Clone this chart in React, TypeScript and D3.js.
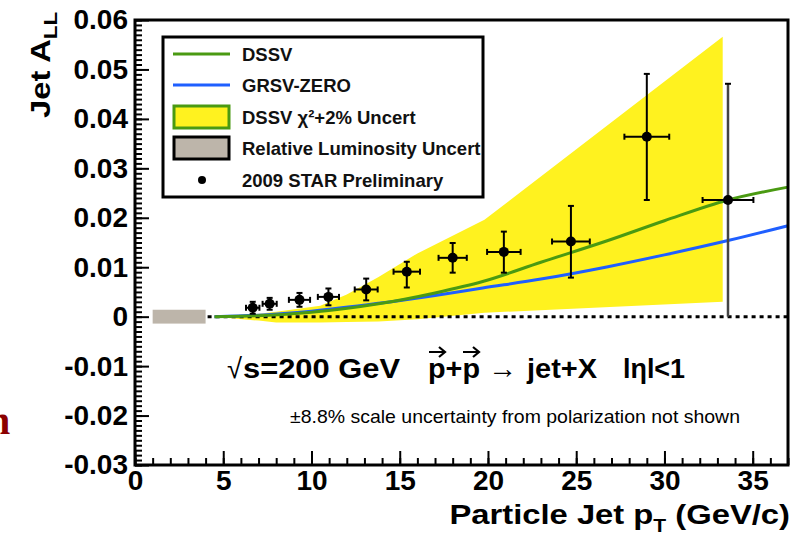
import React, { useEffect, useRef } from "react";
import * as d3 from "d3";

// STAR 2009 jet A_LL
const ptVals = [6.67, 7.63, 9.32, 10.96, 13.1, 15.4, 18.0, 20.9, 24.7, 29.0, 33.6];
const allVals = [0.0018, 0.0026, 0.0034, 0.004, 0.0055, 0.0091, 0.0119, 0.0131, 0.0152, 0.0364, 0.0236];
const errLo = [0.0012, 0.0012, 0.0014, 0.0017, 0.0022, 0.0032, 0.003, 0.0042, 0.0073, 0.0128, 0.0236];
const errHi = [0.0012, 0.0012, 0.0014, 0.0017, 0.0022, 0.002, 0.003, 0.0041, 0.0072, 0.0127, 0.0235];
const binHalf = [0.38, 0.4, 0.6, 0.6, 0.65, 0.75, 0.8, 0.95, 1.07, 1.27, 1.44];

// theory curves
const curvePt = [4.5, 7, 10, 13.8, 17, 19.7, 23, 26.8, 30, 33.6, 37];
const dssvVals = [0, 0.0002, 0.0009, 0.0026, 0.0048, 0.0071, 0.011, 0.0154, 0.0194, 0.0236, 0.0262];
const grsvVals = [0, 0.0003, 0.0011, 0.0027, 0.0043, 0.0058, 0.0076, 0.0101, 0.0125, 0.0154, 0.0184];

// DSSV chi2+2% band
const bandPt = [4.5, 7, 8, 10.5, 12, 13.8, 16, 19.8, 33.3];
const bandHi = [0, 0.0006, 0.001, 0.0022, 0.0045, 0.008, 0.0128, 0.0196, 0.0566];
const bandLo = [0, -0.0008, -0.0012, -0.0012, -0.0011, -0.001, -0.0005, 0.0008, 0.003];

// relative luminosity box
const lumiPt = [1, 4];
const lumiHalf = 0.0014;

const yTicks = [-0.03, -0.02, -0.01, 0, 0.01, 0.02, 0.03, 0.04, 0.05, 0.06];
const xTicks = [0, 5, 10, 15, 20, 25, 30, 35];

const legendItems = ["DSSV", "GRSV-ZERO", "DSSV χ²+2% Uncert", "Relative Luminosity Uncert", "2009 STAR Preliminary"];

const FONT = "'Liberation Sans', Arial, Helvetica, sans-serif";
const GREEN = "#4a9a12";
const BLUE = "#1f5fff";
const YELLOW = "#fff21f";
const LUMI = "#bdb5aa";

export default function App() {
  const ref = useRef<SVGSVGElement>(null);

  useEffect(() => {
    const svg = d3.select(ref.current);
    svg.selectAll("*").remove();

    const left = 135, right = 788, top = 20, bottom = 465;
    const x = d3.scaleLinear().domain([0, 37]).range([left, right]);
    const y = d3.scaleLinear().domain([-0.03, 0.06]).range([bottom, top]);

    const g = svg.append("g");

    // band
    const band = d3.area<number>()
      .x((d, i) => x(bandPt[i]))
      .y0((d, i) => y(bandLo[i]))
      .y1((d) => y(d));
    g.append("path").datum(bandHi).attr("d", band).attr("fill", YELLOW);

    // lumi box
    g.append("rect")
      .attr("x", x(lumiPt[0])).attr("width", x(lumiPt[1]) - x(lumiPt[0]))
      .attr("y", y(lumiHalf)).attr("height", y(-lumiHalf) - y(lumiHalf))
      .attr("fill", LUMI);

    // zero line
    g.append("line")
      .attr("x1", x(lumiPt[1]) + 2).attr("x2", right)
      .attr("y1", y(0)).attr("y2", y(0))
      .attr("stroke", "#000").attr("stroke-width", 3)
      .attr("stroke-dasharray", "4,4");

    const line = d3.line<number>()
      .x((d, i) => x(curvePt[i]))
      .y((d) => y(d))
      .curve(d3.curveMonotoneX);
    g.append("path").datum(grsvVals).attr("d", line)
      .attr("fill", "none").attr("stroke", BLUE).attr("stroke-width", 3);
    g.append("path").datum(dssvVals).attr("d", line)
      .attr("fill", "none").attr("stroke", GREEN).attr("stroke-width", 3);

    // data points with error bars
    const last = ptVals.length - 1;
    const pts = g.selectAll(".pt").data(ptVals).join("g").attr("class", "pt");
    pts.append("line")
      .attr("x1", (d) => x(d)).attr("x2", (d) => x(d))
      .attr("y1", (d, i) => y(allVals[i] - errLo[i]))
      .attr("y2", (d, i) => y(allVals[i] + errHi[i]))
      .attr("stroke", (d, i) => (i === last ? "#444" : "#000"))
      .attr("stroke-width", (d, i) => (i === last ? 2.5 : 2));
    pts.append("line")
      .attr("x1", (d, i) => x(d - binHalf[i])).attr("x2", (d, i) => x(d + binHalf[i]))
      .attr("y1", (d, i) => y(allVals[i])).attr("y2", (d, i) => y(allVals[i]))
      .attr("stroke", "#000").attr("stroke-width", 2);
    // caps
    pts.append("line")
      .attr("x1", (d) => x(d) - 3).attr("x2", (d) => x(d) + 3)
      .attr("y1", (d, i) => y(allVals[i] + errHi[i])).attr("y2", (d, i) => y(allVals[i] + errHi[i]))
      .attr("stroke", "#000").attr("stroke-width", 2);
    pts.filter((d, i) => i !== last).append("line")
      .attr("x1", (d) => x(d) - 3).attr("x2", (d) => x(d) + 3)
      .attr("y1", (d, i) => y(allVals[i] - errLo[i])).attr("y2", (d, i) => y(allVals[i] - errLo[i]))
      .attr("stroke", "#000").attr("stroke-width", 2);
    pts.append("line")
      .attr("x1", (d, i) => x(d - binHalf[i])).attr("x2", (d, i) => x(d - binHalf[i]))
      .attr("y1", (d, i) => y(allVals[i]) - 3).attr("y2", (d, i) => y(allVals[i]) + 3)
      .attr("stroke", "#000").attr("stroke-width", 2);
    pts.append("line")
      .attr("x1", (d, i) => x(d + binHalf[i])).attr("x2", (d, i) => x(d + binHalf[i]))
      .attr("y1", (d, i) => y(allVals[i]) - 3).attr("y2", (d, i) => y(allVals[i]) + 3)
      .attr("stroke", "#000").attr("stroke-width", 2);
    pts.append("circle")
      .attr("cx", (d) => x(d)).attr("cy", (d, i) => y(allVals[i]))
      .attr("r", 5).attr("fill", "#000");

    // axes: ticks inside the frame
    const yMinor = d3.range(-30, 61).map((v) => v / 1000);
    const xMinor = d3.range(0, 38);
    g.append("g").attr("transform", `translate(${left},0)`)
      .call(d3.axisLeft(y).tickValues(yMinor).tickSize(-7).tickFormat(() => ""))
      .call((a) => a.select(".domain").remove());
    g.append("g").attr("transform", `translate(0,${bottom})`)
      .call(d3.axisBottom(x).tickValues(xMinor).tickSize(-7).tickFormat(() => ""))
      .call((a) => a.select(".domain").remove());
    const yAx = g.append("g").attr("transform", `translate(${left},0)`)
      .call(d3.axisLeft(y).tickValues(yTicks).tickSize(-14).tickPadding(7)
        .tickFormat((d) => (+d === 0 ? "0" : d3.format(".2f")(+d).replace("−", "-"))));
    yAx.select(".domain").remove();
    const xAx = g.append("g").attr("transform", `translate(0,${bottom})`)
      .call(d3.axisBottom(x).tickValues(xTicks).tickSize(-14).tickPadding(3).tickFormat(d3.format("d")));
    xAx.select(".domain").remove();
    g.selectAll(".tick line").attr("stroke", "#000").attr("stroke-width", 2);
    g.selectAll(".tick text").attr("font-family", FONT).attr("font-weight", "bold")
      .attr("font-size", 28).attr("fill", "#000");
    xAx.selectAll(".tick text").attr("dy", "0.8em").attr("font-size", 28);

    // frame
    g.append("rect").attr("x", left).attr("y", top)
      .attr("width", right - left).attr("height", bottom - top)
      .attr("fill", "none").attr("stroke", "#000").attr("stroke-width", 3);

    // axis titles
    const yt = svg.append("text")
      .attr("transform", "translate(50,12) rotate(-90) scale(1.17,1)")
      .attr("text-anchor", "end")
      .attr("font-family", FONT).attr("font-weight", "bold").attr("font-size", 28);
    yt.append("tspan").text("Jet A");
    yt.append("tspan").attr("font-size", 19).attr("dy", 7).text("LL");

    const xt = svg.append("text")
      .attr("transform", "translate(790,524) scale(1.17,1)").attr("text-anchor", "end")
      .attr("font-family", FONT).attr("font-weight", "bold").attr("font-size", 28);
    xt.append("tspan").text("Particle Jet p");
    xt.append("tspan").attr("font-size", 18).attr("dy", 8).text("T");
    xt.append("tspan").attr("dy", -8).text(" (GeV/c)");

    // legend
    const lg = svg.append("g");
    lg.append("rect").attr("x", 163).attr("y", 37).attr("width", 320).attr("height", 160)
      .attr("fill", "#fff").attr("stroke", "#000").attr("stroke-width", 3);
    const rowY = [54, 85, 117, 148, 180];
    lg.append("line").attr("x1", 173).attr("x2", 230).attr("y1", rowY[0]).attr("y2", rowY[0])
      .attr("stroke", GREEN).attr("stroke-width", 3);
    lg.append("line").attr("x1", 173).attr("x2", 230).attr("y1", rowY[1]).attr("y2", rowY[1])
      .attr("stroke", BLUE).attr("stroke-width", 3);
    lg.append("rect").attr("x", 174).attr("y", rowY[2] - 11).attr("width", 55).attr("height", 22)
      .attr("fill", YELLOW).attr("stroke", GREEN).attr("stroke-width", 3);
    lg.append("rect").attr("x", 174).attr("y", rowY[3] - 11).attr("width", 55).attr("height", 22)
      .attr("fill", LUMI).attr("stroke", "#000").attr("stroke-width", 3);
    lg.append("circle").attr("cx", 202).attr("cy", rowY[4]).attr("r", 4).attr("fill", "#000");
    lg.selectAll(".lt").data(legendItems).join("text").attr("class", "lt")
      .attr("x", 242).attr("y", (d, i) => rowY[i] + 7)
      .attr("font-family", FONT).attr("font-weight", "bold").attr("font-size", 18.5)
      .attr("fill", "#111")
      .text((d) => d);

    // annotation
    const ann = svg.append("g").attr("font-family", FONT).attr("font-weight", "bold")
      .attr("font-size", 28).attr("fill", "#000");
    const piece = (t: string, x0: number, w: number, weight = "bold") =>
      ann.append("text").attr("x", x0).attr("y", 378).attr("font-weight", weight)
        .attr("textLength", w).attr("lengthAdjust", "spacingAndGlyphs").text(t);
    piece("√", 227, 15, "normal");
    piece("s=200 GeV", 243, 157);
    piece("p+p", 428, 52);
    piece("→", 488, 29, "normal");
    piece("jet+X", 527, 70);
    piece("lηl<1", 623, 62);
    [429, 463].forEach((ax) => {
      ann.append("path").attr("d", `M${ax},352 L${ax + 15},352 M${ax + 10},347 L${ax + 16},352 L${ax + 10},357`)
        .attr("fill", "none").attr("stroke", "#000").attr("stroke-width", 2.2);
    });

    svg.append("text").attr("x", 290).attr("y", 423)
      .attr("font-family", FONT).attr("font-size", 19).attr("fill", "#000")
      .attr("textLength", 450).attr("lengthAdjust", "spacingAndGlyphs")
      .text("±8.8% scale uncertainty from polarization not shown");

    svg.append("text").attr("x", -12).attr("y", 434)
      .attr("font-family", "'Liberation Serif', serif").attr("font-weight", "bold")
      .attr("font-size", 40).attr("fill", "#8b0000").text("n");
  }, []);

  return (
    <svg ref={ref} width={802} height={537}
      style={{ position: "absolute", left: 0, top: 0, background: "#fff" }} />
  );
}
